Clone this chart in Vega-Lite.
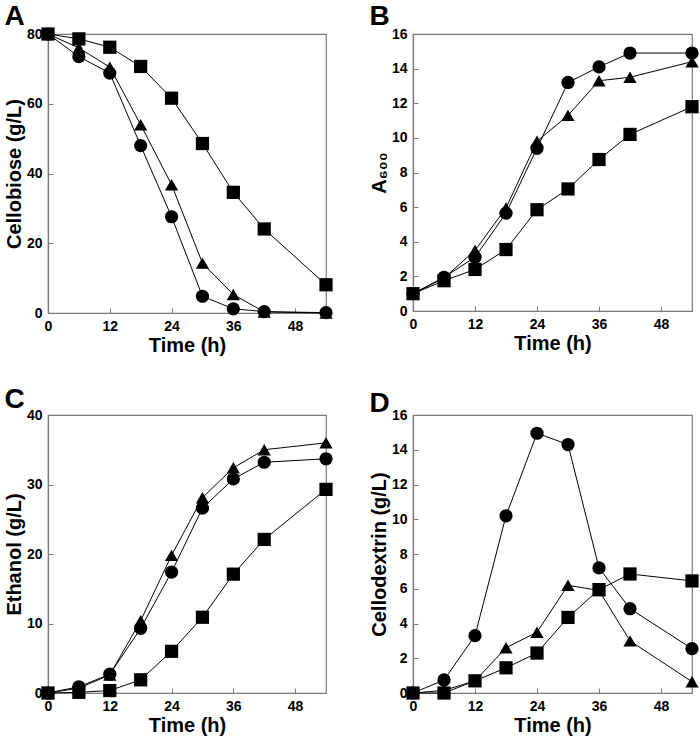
{
  "$schema": "https://vega.github.io/schema/vega-lite/v6.json",
  "background": "white",
  "padding": {"left": 3, "top": 2, "right": 4, "bottom": 4},
  "datasets": {
    "A": [
      {"series": "circle", "time": 0, "value": 80}, {"series": "circle", "time": 6, "value": 73.5}, {"series": "circle", "time": 12, "value": 68.8}, {"series": "circle", "time": 18, "value": 48}, {"series": "circle", "time": 24, "value": 27.6}, {"series": "circle", "time": 30, "value": 4.8}, {"series": "circle", "time": 36, "value": 1.2}, {"series": "circle", "time": 42, "value": 0.4}, {"series": "circle", "time": 54, "value": 0.1},
      {"series": "triangle", "time": 0, "value": 80}, {"series": "triangle", "time": 6, "value": 76}, {"series": "triangle", "time": 12, "value": 70.5}, {"series": "triangle", "time": 18, "value": 54}, {"series": "triangle", "time": 24, "value": 36.8}, {"series": "triangle", "time": 30, "value": 14.3}, {"series": "triangle", "time": 36, "value": 5.3}, {"series": "triangle", "time": 42, "value": 0.3}, {"series": "triangle", "time": 54, "value": 0},
      {"series": "square", "time": 0, "value": 80}, {"series": "square", "time": 6, "value": 78.6}, {"series": "square", "time": 12, "value": 76.2}, {"series": "square", "time": 18, "value": 70.7}, {"series": "square", "time": 24, "value": 61.6}, {"series": "square", "time": 30, "value": 48.6}, {"series": "square", "time": 36, "value": 34.6}, {"series": "square", "time": 42, "value": 24.1}, {"series": "square", "time": 54, "value": 8.1}
    ],
    "B": [
      {"series": "circle", "time": 0, "value": 1}, {"series": "circle", "time": 6, "value": 1.95}, {"series": "circle", "time": 12, "value": 3.1}, {"series": "circle", "time": 18, "value": 5.65}, {"series": "circle", "time": 24, "value": 9.4}, {"series": "circle", "time": 30, "value": 13.2}, {"series": "circle", "time": 36, "value": 14.1}, {"series": "circle", "time": 42, "value": 14.9}, {"series": "circle", "time": 54, "value": 14.9},
      {"series": "triangle", "time": 0, "value": 1}, {"series": "triangle", "time": 6, "value": 1.9}, {"series": "triangle", "time": 12, "value": 3.5}, {"series": "triangle", "time": 18, "value": 5.95}, {"series": "triangle", "time": 24, "value": 9.8}, {"series": "triangle", "time": 30, "value": 11.3}, {"series": "triangle", "time": 36, "value": 13.3}, {"series": "triangle", "time": 42, "value": 13.5}, {"series": "triangle", "time": 54, "value": 14.4},
      {"series": "square", "time": 0, "value": 1}, {"series": "square", "time": 6, "value": 1.75}, {"series": "square", "time": 12, "value": 2.4}, {"series": "square", "time": 18, "value": 3.55}, {"series": "square", "time": 24, "value": 5.85}, {"series": "square", "time": 30, "value": 7.05}, {"series": "square", "time": 36, "value": 8.75}, {"series": "square", "time": 42, "value": 10.2}, {"series": "square", "time": 54, "value": 11.8}
    ],
    "C": [
      {"series": "circle", "time": 0, "value": 0}, {"series": "circle", "time": 6, "value": 0.9}, {"series": "circle", "time": 12, "value": 2.7}, {"series": "circle", "time": 18, "value": 9.3}, {"series": "circle", "time": 24, "value": 17.4}, {"series": "circle", "time": 30, "value": 26.6}, {"series": "circle", "time": 36, "value": 30.8}, {"series": "circle", "time": 42, "value": 33.2}, {"series": "circle", "time": 54, "value": 33.7},
      {"series": "triangle", "time": 0, "value": 0}, {"series": "triangle", "time": 6, "value": 0.7}, {"series": "triangle", "time": 12, "value": 2.6}, {"series": "triangle", "time": 18, "value": 10.4}, {"series": "triangle", "time": 24, "value": 19.8}, {"series": "triangle", "time": 30, "value": 28.1}, {"series": "triangle", "time": 36, "value": 32.4}, {"series": "triangle", "time": 42, "value": 35.0}, {"series": "triangle", "time": 54, "value": 36.0},
      {"series": "square", "time": 0, "value": 0}, {"series": "square", "time": 6, "value": 0.1}, {"series": "square", "time": 12, "value": 0.35}, {"series": "square", "time": 18, "value": 1.9}, {"series": "square", "time": 24, "value": 6.0}, {"series": "square", "time": 30, "value": 10.9}, {"series": "square", "time": 36, "value": 17.1}, {"series": "square", "time": 42, "value": 22.1}, {"series": "square", "time": 54, "value": 29.3}
    ],
    "D": [
      {"series": "circle", "time": 0, "value": 0}, {"series": "circle", "time": 6, "value": 0.75}, {"series": "circle", "time": 12, "value": 3.3}, {"series": "circle", "time": 18, "value": 10.2}, {"series": "circle", "time": 24, "value": 14.95}, {"series": "circle", "time": 30, "value": 14.3}, {"series": "circle", "time": 36, "value": 7.2}, {"series": "circle", "time": 42, "value": 4.85}, {"series": "circle", "time": 54, "value": 2.55},
      {"series": "triangle", "time": 0, "value": 0}, {"series": "triangle", "time": 6, "value": 0.15}, {"series": "triangle", "time": 12, "value": 0.7}, {"series": "triangle", "time": 18, "value": 2.6}, {"series": "triangle", "time": 24, "value": 3.5}, {"series": "triangle", "time": 30, "value": 6.2}, {"series": "triangle", "time": 36, "value": 5.9}, {"series": "triangle", "time": 42, "value": 3.0}, {"series": "triangle", "time": 54, "value": 0.65},
      {"series": "square", "time": 0, "value": 0}, {"series": "square", "time": 6, "value": 0.0}, {"series": "square", "time": 12, "value": 0.7}, {"series": "square", "time": 18, "value": 1.45}, {"series": "square", "time": 24, "value": 2.3}, {"series": "square", "time": 30, "value": 4.35}, {"series": "square", "time": 36, "value": 5.95}, {"series": "square", "time": 42, "value": 6.85}, {"series": "square", "time": 54, "value": 6.45}
    ]
  },
  "vconcat": [
    {
      "hconcat": [
        {
          "data": {"name": "A"},
          "width": 278, "height": 279,
          "title": {"text": "A", "offset": -4},
          "encoding": {
            "x": {"field": "time", "type": "quantitative", "scale": {"domain": [0, 54], "nice": false}, "axis": {"values": [0, 12, 24, 36, 48], "title": "Time (h)"}},
            "y": {"field": "value", "type": "quantitative", "scale": {"domain": [0, 80], "nice": false}, "axis": {"values": [0, 20, 40, 60, 80], "title": "Cellobiose (g/L)"}}
          },
          "layer": [
            {"mark": {"type": "line", "color": "black", "strokeWidth": 1, "clip": false}, "encoding": {"detail": {"field": "series"}}},
            {"mark": {"type": "point", "filled": true, "color": "black", "opacity": 1, "size": 175, "clip": false}, "encoding": {"shape": {"field": "series", "type": "nominal", "scale": {"domain": ["square", "triangle", "circle"], "range": ["square", "triangle-up", "circle"]}, "legend": null}}}
          ]
        },
        {
          "data": {"name": "B"},
          "width": 279, "height": 277,
          "title": {"text": "B", "offset": -4},
          "encoding": {
            "x": {"field": "time", "type": "quantitative", "scale": {"domain": [0, 54], "nice": false}, "axis": {"values": [0, 12, 24, 36, 48], "title": "Time (h)"}},
            "y": {"field": "value", "type": "quantitative", "scale": {"domain": [0, 16], "nice": false}, "axis": {"values": [0, 2, 4, 6, 8, 10, 12, 14, 16], "title": "A₆₀₀"}}
          },
          "layer": [
            {"mark": {"type": "line", "color": "black", "strokeWidth": 1, "clip": false}, "encoding": {"detail": {"field": "series"}}},
            {"mark": {"type": "point", "filled": true, "color": "black", "opacity": 1, "size": 175, "clip": false}, "encoding": {"shape": {"field": "series", "type": "nominal", "scale": {"domain": ["square", "triangle", "circle"], "range": ["square", "triangle-up", "circle"]}, "legend": null}}}
          ]
        }
      ],
      "spacing": 34
    },
    {
      "hconcat": [
        {
          "data": {"name": "C"},
          "width": 278, "height": 278,
          "title": {"text": "C", "offset": -6},
          "encoding": {
            "x": {"field": "time", "type": "quantitative", "scale": {"domain": [0, 54], "nice": false}, "axis": {"values": [0, 12, 24, 36, 48], "title": "Time (h)"}},
            "y": {"field": "value", "type": "quantitative", "scale": {"domain": [0, 40], "nice": false}, "axis": {"values": [0, 10, 20, 30, 40], "title": "Ethanol (g/L)"}}
          },
          "layer": [
            {"mark": {"type": "line", "color": "black", "strokeWidth": 1, "clip": false}, "encoding": {"detail": {"field": "series"}}},
            {"mark": {"type": "point", "filled": true, "color": "black", "opacity": 1, "size": 175, "clip": false}, "encoding": {"shape": {"field": "series", "type": "nominal", "scale": {"domain": ["square", "triangle", "circle"], "range": ["square", "triangle-up", "circle"]}, "legend": null}}}
          ]
        },
        {
          "data": {"name": "D"},
          "width": 279, "height": 278,
          "title": {"text": "D", "offset": -10},
          "encoding": {
            "x": {"field": "time", "type": "quantitative", "scale": {"domain": [0, 54], "nice": false}, "axis": {"values": [0, 12, 24, 36, 48], "title": "Time (h)"}},
            "y": {"field": "value", "type": "quantitative", "scale": {"domain": [0, 16], "nice": false}, "axis": {"values": [0, 2, 4, 6, 8, 10, 12, 14, 16], "title": "Cellodextrin (g/L)"}}
          },
          "layer": [
            {"mark": {"type": "line", "color": "black", "strokeWidth": 1, "clip": false}, "encoding": {"detail": {"field": "series"}}},
            {"mark": {"type": "point", "filled": true, "color": "black", "opacity": 1, "size": 175, "clip": false}, "encoding": {"shape": {"field": "series", "type": "nominal", "scale": {"domain": ["square", "triangle", "circle"], "range": ["square", "triangle-up", "circle"]}, "legend": null}}}
          ]
        }
      ],
      "spacing": 34
    }
  ],
  "spacing": 29,
  "config": {
    "view": {"stroke": "#7a7a7a", "strokeWidth": 1.2},
    "axis": {
      "grid": false,
      "domainColor": "#7a7a7a",
      "domainWidth": 1.2,
      "tickColor": "#7a7a7a",
      "tickSize": -5,
      "tickWidth": 1,
      "labelFlush": false,
      "labelFont": "Liberation Sans",
      "labelFontSize": 14,
      "labelFontWeight": "bold",
      "labelColor": "black",
      "labelPadding": 11,
      "titleFont": "Liberation Sans",
      "titleFontSize": 20,
      "titleFontWeight": "bold",
      "titleColor": "black",
      "titlePadding": 2
    },
    "title": {"anchor": "start", "frame": "bounds", "font": "Liberation Sans", "fontSize": 28, "fontWeight": "bold", "color": "black"}
  }
}
